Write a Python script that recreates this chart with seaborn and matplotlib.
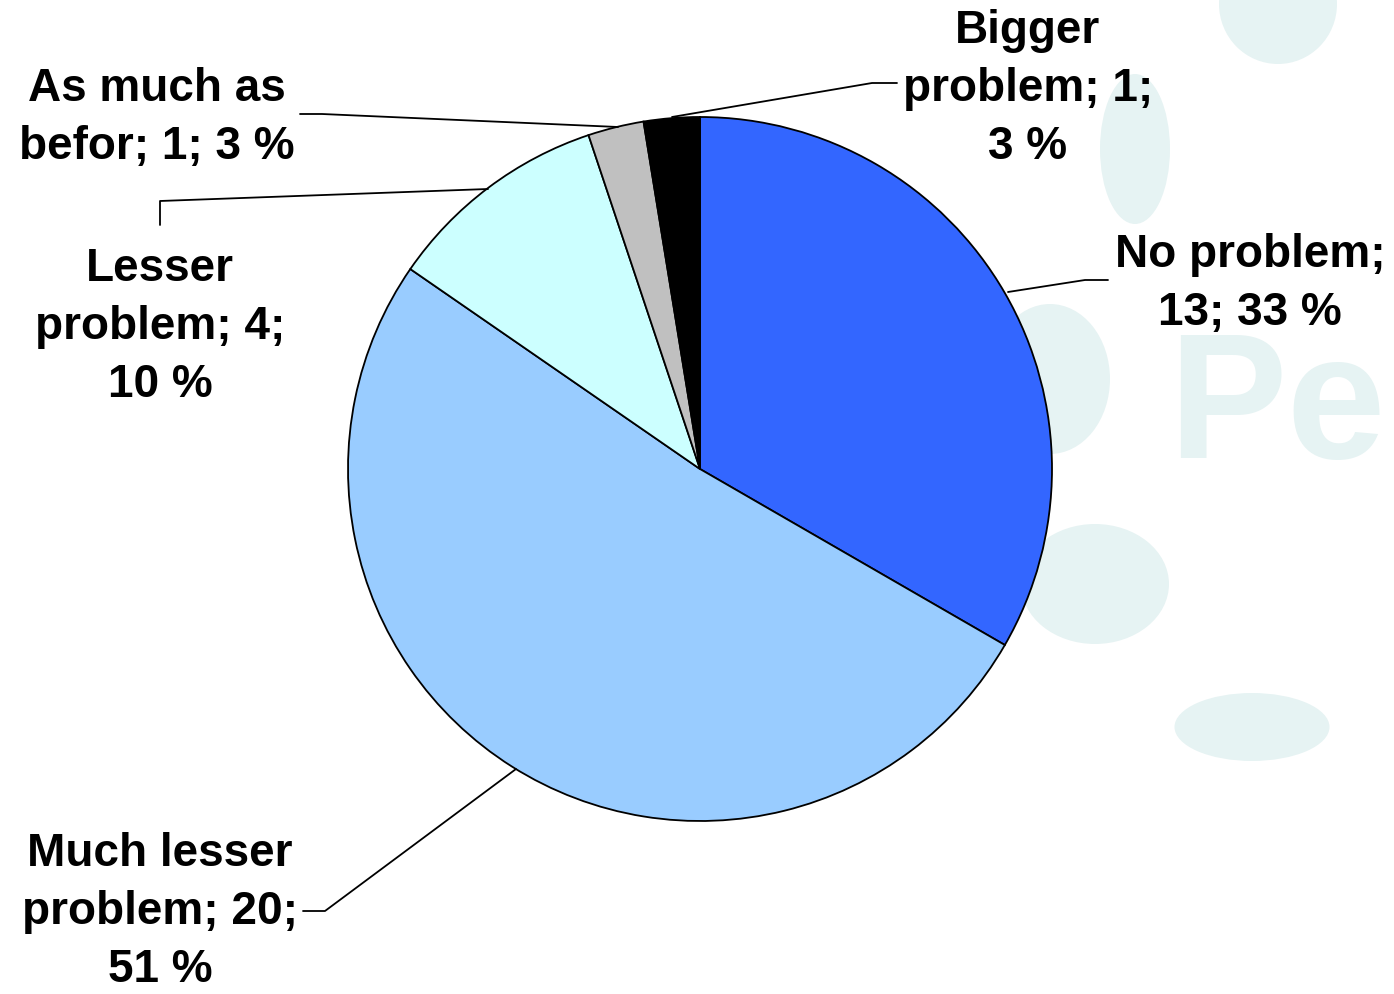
import matplotlib
matplotlib.use("Agg")
import matplotlib.pyplot as plt
import seaborn as sns
from matplotlib.patches import Ellipse

# data
categories = ["No problem", "Much lesser\nproblem", "Lesser\nproblem", "As much as\nbefor", "Bigger\nproblem"]
counts = [13, 20, 4, 1, 1]
percents = [33, 51, 10, 3, 3]
colors = ["#3366FF", "#99CCFF", "#CCFFFF", "#C0C0C0", "#000000"]

label_texts = [
    "No problem;\n13; 33 %",
    "Much lesser\nproblem; 20;\n51 %",
    "Lesser\nproblem; 4;\n10 %",
    "As much as\nbefor; 1; 3 %",
    "Bigger\nproblem; 1;\n3 %",
]

sns.set_theme(style="white")
plt.rcParams['font.family'] = ['Liberation Sans', 'DejaVu Sans']

W, H = 1394, 995
fig = plt.figure(figsize=(W / 100, H / 100), dpi=100)
ax = fig.add_axes([0, 0, 1, 1])

# faint watermark behind the chart
wm = "#E6F3F3"
for (ex, ey, w, h) in [(1278, 5, 118, 120), (1135, 150, 70, 150), (1050, 380, 120, 150),
                       (1095, 585, 148, 120), (1252, 728, 155, 68)]:
    ax.add_patch(Ellipse((ex, H - ey), w, h, color=wm, zorder=0, lw=0))
ax.text(1168, H - 458, "Pe", fontsize=128, fontweight="bold", color=wm,
        ha="left", va="baseline", zorder=0)

cx, cy, r = 700, H - 470, 352
wedges, _ = ax.pie(counts, colors=colors, startangle=90, counterclock=False,
                   center=(cx, cy), radius=r, frame=True,
                   wedgeprops=dict(edgecolor="black", linewidth=1.3))
for wd in wedges:
    wd.set_zorder(2)

# label positions and leader lines (pixel coords, y from top)
label_pos = [(1250, 284), (160, 912), (160, 327), (157, 118), (1028, 89)]
leaders = [
    [(1008, 293), (1085, 281), (1108, 281)],
    [(516, 770), (325, 912), (303, 912)],
    [(488, 190), (160, 202), (160, 226)],
    [(618, 128), (322, 115), (300, 115)],
    [(672, 118), (872, 84), (897, 84)],
]
for txt, (lx, ly), pts in zip(label_texts, label_pos, leaders):
    ax.text(lx, H - ly, txt, ha="center", va="center", fontsize=33, color="black",
            fontweight="bold", linespacing=1.4, zorder=3)
    ax.plot([p[0] for p in pts], [H - p[1] for p in pts], color="black", lw=1.3, zorder=3)

ax.set_xlim(0, W)
ax.set_ylim(0, H)
ax.set_aspect("equal")
ax.axis("off")

fig.savefig("out.png", dpi=100, facecolor="white")
